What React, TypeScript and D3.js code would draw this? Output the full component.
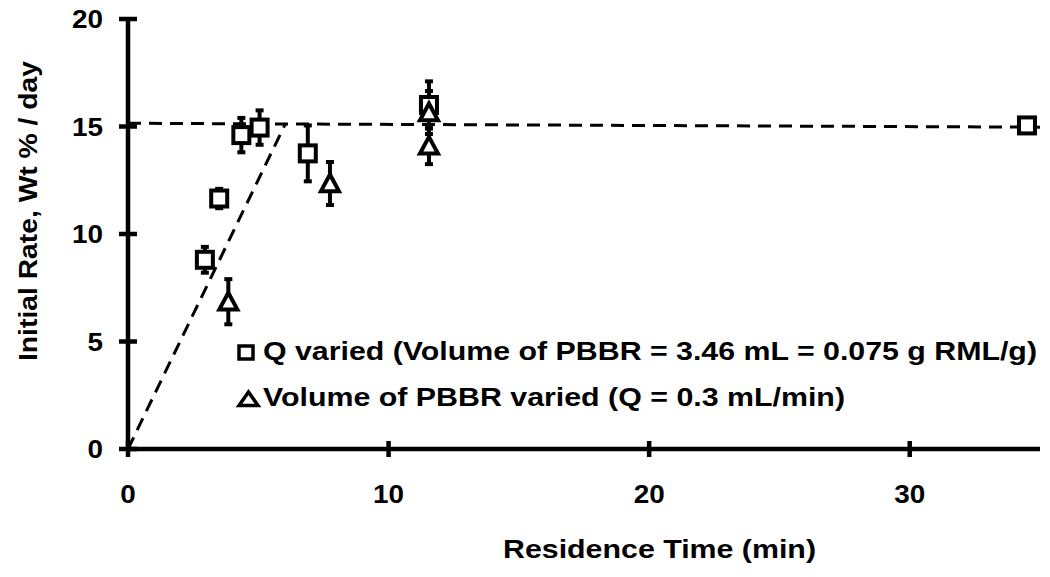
import React from "react";
import * as d3 from "d3";

// Q varied series (squares)
const qTime = [2.95, 3.5, 4.35, 5.05, 6.9, 11.55, 34.5];
const qRate = [8.8, 11.65, 14.6, 14.95, 13.75, 16.0, 15.05];
const qErr = [0.6, 0.45, 0.8, 0.8, 1.3, 1.1, 0.3];

// Volume of PBBR varied series (triangles)
const vTime = [3.85, 7.75, 11.55, 11.55];
const vRate = [6.85, 12.35, 14.1, 15.65];
const vErr = [1.05, 1.0, 0.85, 1.0];

const xTicks = [0, 10, 20, 30];
const yTicks = [0, 5, 10, 15, 20];

// Guide lines: linear rise and plateau
const riseLine = [[0, 0], [6.05, 15.15]];
const plateauLine = [[0, 15.15], [35, 14.97]];

const legendItems = [
  "Q varied (Volume of PBBR = 3.46 mL = 0.075 g RML/g)",
  "Volume of PBBR varied (Q = 0.3 mL/min)",
];

const W = 1050;
const H = 577;
const font = "'Liberation Sans', Arial, sans-serif";

export default function App() {
  const x = d3.scaleLinear().domain([0, 35]).range([128, 1040]);
  const y = d3.scaleLinear().domain([0, 20]).range([449, 19]);
  const line = d3
    .line<number[]>()
    .x((d) => x(d[0]))
    .y((d) => y(d[1]));

  const sq = 16;
  const triPath = (cx: number, cy: number) => {
    const s = 9;
    return `M${cx},${cy - s}L${cx + s},${cy + s * 0.85}L${cx - s},${cy + s * 0.85}Z`;
  };

  const errBar = (t: number, r: number, e: number, key: string) => (
    <g key={key} stroke="#000" strokeWidth={4}>
      <line x1={x(t)} x2={x(t)} y1={y(r - e)} y2={y(r + e)} />
      <line x1={x(t) - 4} x2={x(t) + 4} y1={y(r - e)} y2={y(r - e)} />
      <line x1={x(t) - 4} x2={x(t) + 4} y1={y(r + e)} y2={y(r + e)} />
    </g>
  );

  const tickLen = (t: number) => String(t).length * 15.5;

  return (
    <svg
      width={W}
      height={H}
      style={{ position: "absolute", left: 0, top: 0, background: "#fff" }}
      fontFamily={font}
      fontWeight="bold"
    >
      {/* guide lines */}
      <path d={line(riseLine) ?? ""} fill="none" stroke="#000" strokeWidth={3} strokeDasharray="13,8" />
      <path d={line(plateauLine) ?? ""} fill="none" stroke="#000" strokeWidth={3} strokeDasharray="13,8" />

      {/* axes */}
      <line x1={x(0)} x2={x(35)} y1={y(0)} y2={y(0)} stroke="#000" strokeWidth={4.5} />
      <line x1={x(0)} x2={x(0)} y1={y(0)} y2={y(20)} stroke="#000" strokeWidth={4.5} />
      {xTicks.map((t) => (
        <g key={"xt" + t}>
          <line x1={x(t)} x2={x(t)} y1={y(0) - 8} y2={y(0) + 8} stroke="#000" strokeWidth={4.5} />
          <text
            x={x(t)}
            y={y(0) + 54}
            textAnchor="middle"
            fontSize={26}
            textLength={tickLen(t)}
            lengthAdjust="spacingAndGlyphs"
          >
            {t}
          </text>
        </g>
      ))}
      {yTicks.map((t) => (
        <g key={"yt" + t}>
          <line x1={x(0) - 9} x2={x(0) + 9} y1={y(t)} y2={y(t)} stroke="#000" strokeWidth={4.5} />
          <text
            x={x(0) - 25}
            y={y(t) + 9}
            textAnchor="end"
            fontSize={26}
            textLength={tickLen(t)}
            lengthAdjust="spacingAndGlyphs"
          >
            {t}
          </text>
        </g>
      ))}
      <text x={503} y={558} fontSize={26} textLength={313} lengthAdjust="spacingAndGlyphs">
        Residence Time (min)
      </text>
      <text
        transform={`translate(37,211) rotate(-90)`}
        textAnchor="middle"
        fontSize={26}
        textLength={300}
        lengthAdjust="spacingAndGlyphs"
      >
        Initial Rate, Wt % / day
      </text>

      {/* error bars */}
      {qTime.map((t, i) => errBar(t, qRate[i], qErr[i], "qe" + i))}
      {vTime.map((t, i) => errBar(t, vRate[i], vErr[i], "ve" + i))}

      {/* squares */}
      {qTime.map((t, i) => (
        <rect
          key={"q" + i}
          x={x(t) - sq / 2}
          y={y(qRate[i]) - sq / 2}
          width={sq}
          height={sq}
          fill="#fff"
          stroke="#000"
          strokeWidth={4}
        />
      ))}
      {/* triangles */}
      {vTime.map((t, i) => (
        <path
          key={"v" + i}
          d={triPath(x(t), y(vRate[i]))}
          fill="#fff"
          stroke="#000"
          strokeWidth={4}
          strokeLinejoin="miter"
        />
      ))}

      {/* legend */}
      <rect x={239} y={346} width={14} height={13} fill="#fff" stroke="#000" strokeWidth={3.5} />
      <text x={263} y={360} fontSize={25} textLength={774} lengthAdjust="spacingAndGlyphs">
        {legendItems[0]}
      </text>
      <path d={`M248.5,392L258,405.5L239,405.5Z`} fill="#fff" stroke="#000" strokeWidth={3.5} />
      <text x={263} y={406} fontSize={25} textLength={582} lengthAdjust="spacingAndGlyphs">
        {legendItems[1]}
      </text>
    </svg>
  );
}
